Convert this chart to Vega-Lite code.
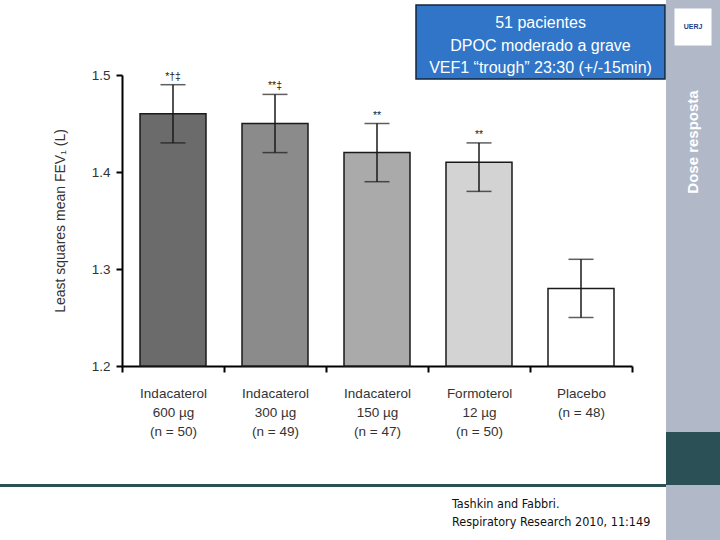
{
  "$schema": "https://vega.github.io/schema/vega-lite/v6.json",
  "background": "white",
  "padding": 0,
  "config": {"view": {"stroke": null}, "font": "Liberation Sans"},
  "spacing": 0,
  "bounds": "full",
  "hconcat": [
    {
      "columns": 1,
      "align": "none",
      "spacing": -12,
      "concat": [
        {"width": 1, "height": 16, "data": {"values": [{}]}, "mark": {"type": "text", "text": "", "fontSize": 0}},
        {
          "spacing": 0,
          "hconcat": [
            {"width": 415, "height": 74, "data": {"values": [{}]}, "mark": {"type": "text", "text": "", "fontSize": 0}},
            {
              "width": 249, "height": 74,
              "view": {"fill": "#3075c8", "stroke": "#14243a", "strokeWidth": 1.5},
              "data": {"values": [{"lines": ["51 pacientes", "DPOC moderado a grave", "VEF1 “trough” 23:30 (+/-15min)"]}]},
              "mark": {"type": "text", "color": "white", "fontSize": 16, "lineHeight": 22.5, "align": "center", "baseline": "middle", "dy": -19, "font": "Liberation Sans"},
              "encoding": {"text": {"field": "lines"}}
            }
          ]
        },
        {
          "spacing": 0,
          "hconcat": [
            {"width": 53, "height": 10, "data": {"values": [{}]}, "mark": {"type": "text", "text": "", "fontSize": 0}},
            {
              "width": 510, "height": 291,
              "data": {"values": [
                {"label": "Indacaterol|600 µg|(n = 50)", "mean": 1.46, "low": 1.43, "high": 1.49, "sig": "*†‡"},
                {"label": "Indacaterol|300 µg|(n = 49)", "mean": 1.45, "low": 1.42, "high": 1.48, "sig": "**‡"},
                {"label": "Indacaterol|150 µg|(n = 47)", "mean": 1.42, "low": 1.39, "high": 1.45, "sig": "**"},
                {"label": "Formoterol|12 µg|(n = 50)", "mean": 1.41, "low": 1.38, "high": 1.43, "sig": "**"},
                {"label": "Placebo|(n = 48)", "mean": 1.28, "low": 1.25, "high": 1.31, "sig": ""}
              ]},
              "encoding": {
                "x": {
                  "field": "label", "type": "nominal", "sort": null,
                  "scale": {"paddingInner": 0, "paddingOuter": 0},
                  "axis": {
                    "title": null, "labelAngle": 0, "labelExpr": "split(datum.label, '|')",
                    "tickBand": "extent", "tickSize": 6, "tickWidth": 2, "tickColor": "black",
                    "domainColor": "black", "domainWidth": 2,
                    "labelFontSize": 13.5, "labelColor": "#333333", "labelLineHeight": 19,
                    "labelPadding": 14, "labelFont": "Liberation Sans"
                  }
                }
              },
              "layer": [
                {
                  "mark": {"type": "bar", "width": {"band": 0.647}, "stroke": "#1a1a1a", "strokeWidth": 1.5},
                  "encoding": {
                    "y": {
                      "field": "mean", "type": "quantitative",
                      "scale": {"domain": [1.2, 1.5], "zero": false, "nice": false},
                      "axis": {
                        "values": [1.2, 1.3, 1.4, 1.5], "format": ".1f", "grid": false,
                        "title": "Least squares mean FEV₁ (L)", "titleFontSize": 14, "titleFontWeight": "normal",
                        "titleColor": "#333333", "titlePadding": 24,
                        "tickSize": 6, "tickWidth": 2, "tickColor": "black",
                        "domainColor": "black", "domainWidth": 2,
                        "labelFontSize": 13.5, "labelColor": "#333333", "labelPadding": 6
                      }
                    },
                    "y2": {"datum": 1.2},
                    "color": {
                      "field": "label", "type": "nominal", "legend": null,
                      "scale": {
                        "domain": ["Indacaterol|600 µg|(n = 50)", "Indacaterol|300 µg|(n = 49)", "Indacaterol|150 µg|(n = 47)", "Formoterol|12 µg|(n = 50)", "Placebo|(n = 48)"],
                        "range": ["#6b6b6b", "#8b8b8b", "#aaaaaa", "#d3d3d3", "#ffffff"]
                      }
                    }
                  }
                },
                {
                  "mark": {"type": "rule", "color": "#1a1a1a", "strokeWidth": 1.5},
                  "encoding": {"y": {"field": "low", "type": "quantitative"}, "y2": {"field": "high"}}
                },
                {
                  "mark": {"type": "tick", "color": "#1a1a1a", "thickness": 1.5, "size": 25},
                  "encoding": {"y": {"field": "low", "type": "quantitative"}}
                },
                {
                  "mark": {"type": "tick", "color": "#1a1a1a", "thickness": 1.5, "size": 25},
                  "encoding": {"y": {"field": "high", "type": "quantitative"}}
                },
                {
                  "mark": {"type": "text", "baseline": "bottom", "dy": -3, "fontSize": 10.5, "fill": "#222222"},
                  "encoding": {"y": {"field": "high", "type": "quantitative"}, "text": {"field": "sig"}}
                }
              ]
            }
          ]
        },
        {"width": 1, "height": 70, "data": {"values": [{}]}, "mark": {"type": "text", "text": "", "fontSize": 0}},
        {"width": 666, "height": 3, "view": {"fill": "#2b5157"}, "data": {"values": [{}]}, "mark": {"type": "text", "text": "", "fontSize": 0}},
        {"width": 1, "height": 34, "data": {"values": [{}]}, "mark": {"type": "text", "text": "", "fontSize": 0}},
        {
          "spacing": 0,
          "hconcat": [
            {"width": 452, "height": 1, "data": {"values": [{}]}, "mark": {"type": "text", "text": "", "fontSize": 0}},
            {
              "width": 210, "height": 1,
              "title": {"text": ["Tashkin and Fabbri.", "Respiratory Research 2010, 11:149"], "anchor": "start", "frame": "group", "fontSize": 12.5, "fontWeight": "normal", "font": "Liberation Sans Narrow, DejaVu Sans Condensed, sans-serif", "color": "#111111", "lineHeight": 18, "offset": 0},
              "data": {"values": [{}]}, "mark": {"type": "text", "text": "", "fontSize": 0}
            }
          ]
        }
      ]
    },
    {
      "spacing": 0,
      "vconcat": [
        {
          "width": 54, "height": 54, "view": {"fill": "#b1b9c9"},
          "data": {"values": [{"name": "UERJ"}]},
          "layer": [
            {"mark": {"type": "point", "shape": "square", "size": 1369, "filled": true, "color": "white", "opacity": 1}},
            {"mark": {"type": "text", "fontSize": 7, "fontWeight": "bold", "color": "#1f3c88"}, "encoding": {"text": {"field": "name"}}}
          ]
        },
        {
          "width": 54, "height": 176, "view": {"fill": "#b1b9c9"},
          "data": {"values": [{"t": "Dose resposta"}]},
          "mark": {"type": "text", "angle": 270, "color": "white", "fontSize": 15, "fontWeight": "bold", "align": "center", "baseline": "middle"},
          "encoding": {"text": {"field": "t"}}
        },
        {"width": 54, "height": 202, "view": {"fill": "#b1b9c9"}, "data": {"values": [{}]}, "mark": {"type": "text", "text": "", "fontSize": 0}},
        {"width": 54, "height": 53, "view": {"fill": "#2b5157"}, "data": {"values": [{}]}, "mark": {"type": "text", "text": "", "fontSize": 0}},
        {"width": 54, "height": 55, "view": {"fill": "#b1b9c9"}, "data": {"values": [{}]}, "mark": {"type": "text", "text": "", "fontSize": 0}}
      ]
    }
  ]
}
